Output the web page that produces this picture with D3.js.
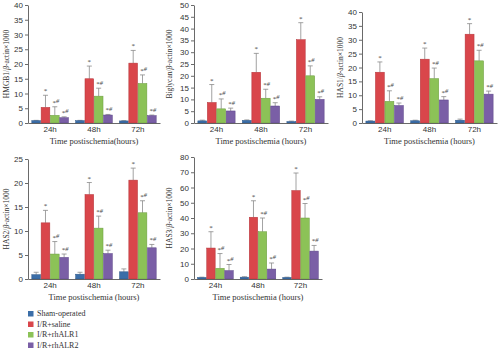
<!DOCTYPE html>
<html>
<head>
<meta charset="utf-8">
<script src="https://cdn.jsdelivr.net/npm/d3@7"></script>
<style>
  body { margin: 0; background: #fff; }
  svg { font-family: 'Liberation Serif', 'DejaVu Serif', serif; }
  .tick text { font-size: 8px; fill: #333; }
  .axis path, .axis line { stroke: #444; stroke-width: 0.8; }
  .axis-title { font-size: 8.5px; fill: #333; }
</style>
</head>
<body>
<svg id="chart" width="500" height="352"></svg>
<script>
// groups and time points
const groups = ['Sham-operated', 'I/R+saline', 'I/R+rhALR1', 'I/R+rhALR2']
const times = ['24h', '48h', '72h']
const marks = ['', '*', '*#', '*#']
const colors = ['#3b6ea8', '#d9464b', '#8cc257', '#7a5fa6']
const strokes = ['#2b5586', '#b3353a', '#6b9c3f', '#5b4487']

// values: one row per group, one column per time point
const hmgb1Mean = [[0.8, 0.8, 0.7], [5.3, 15.0, 20.3], [2.6, 9.1, 13.4], [1.8, 2.7, 2.5]]
const hmgb1Err  = [[0.1, 0.1, 0.1], [4.1, 4.3, 4.3], [2.9, 2.7, 2.9], [0.3, 0.2, 0.2]]

const biglycanMean = [[0.9, 1.1, 0.6], [8.7, 21.5, 35.3], [6.0, 10.5, 20.0], [5.1, 7.2, 10.0]]
const biglycanErr  = [[0.3, 0.2, 0.2], [7.6, 8.0, 7.2], [4.2, 3.8, 4.2], [1.2, 1.4, 1.1]]

const has1Mean = [[0.7, 0.8, 1.0], [18.3, 23.0, 32.0], [7.8, 16.0, 22.4], [6.3, 8.3, 10.4]]
const has1Err  = [[0.1, 0.2, 0.4], [3.7, 4.0, 3.8], [3.8, 3.8, 3.8], [0.9, 1.2, 1.1]]

const has2Mean = [[0.9, 1.0, 1.5], [11.7, 17.6, 20.6], [5.2, 10.6, 13.8], [4.5, 5.3, 6.5]]
const has2Err  = [[0.5, 0.4, 0.6], [2.6, 2.5, 2.5], [2.6, 2.5, 2.5], [0.7, 0.7, 0.7]]

const has3Mean = [[1.0, 1.2, 1.0], [20.3, 40.5, 58.0], [7.0, 31.0, 40.0], [5.5, 6.5, 18.3]]
const has3Err  = [[0.2, 0.3, 0.2], [10.7, 10.8, 11.5], [9.7, 9.0, 9.5], [4.0, 4.0, 3.7]]

const yMax = [40, 50, 40, 25, 80]
const yStep = [5, 5, 5, 5, 10]

const svg = d3.select('#chart')

function drawPanel(cfg, mean, err, max, step) {
    const x0 = d3.scaleBand().domain(times).range([cfg.left, cfg.right])
        .paddingInner(0.15).paddingOuter(0.08)
    const x1 = d3.scaleBand().domain(groups).range([0, x0.bandwidth()])
    const y = d3.scaleLinear().domain([0, max]).range([cfg.bottom, cfg.top])

    const g = svg.append('g')

    // bars
    groups.forEach((grp, gi) => {
        times.forEach((t, ti) => {
            const bx = x0(t) + x1(grp)
            const bw = x1.bandwidth()
            const v = mean[gi][ti]
            const e = err[gi][ti]
            const cx = bx + bw / 2
            // error bar (upper half only)
            g.append('line')
                .attr('x1', cx).attr('x2', cx)
                .attr('y1', y(v)).attr('y2', y(v + e))
                .attr('stroke', '#8a8a8a').attr('stroke-width', 0.8)
            g.append('line')
                .attr('x1', cx - 2.5).attr('x2', cx + 2.5)
                .attr('y1', y(v + e)).attr('y2', y(v + e))
                .attr('stroke', '#8a8a8a').attr('stroke-width', 0.8)
            g.append('rect')
                .attr('x', bx + 0.3)
                .attr('y', y(v))
                .attr('width', bw - 0.6)
                .attr('height', y(0) - y(v))
                .attr('fill', colors[gi])
                .attr('stroke', strokes[gi])
                .attr('stroke-width', 0.5)
            if (marks[gi]) {
                const txt = g.append('text')
                    .attr('x', cx + (marks[gi].length > 1 ? 1 : 0))
                    .attr('y', y(v + e) - 2)
                    .attr('text-anchor', 'middle')
                    .style('font-size', '7px')
                    .style('fill', '#444')
                txt.append('tspan').text('*')
                if (marks[gi].includes('#')) {
                    txt.append('tspan').text('#')
                        .attr('dy', -1.5)
                        .style('font-style', 'italic')
                        .style('font-size', '6.5px')
                }
            }
        })
    })

    // axes
    const ticks = d3.range(0, max + 0.001, step)
    g.append('g')
        .attr('class', 'axis')
        .attr('transform', `translate(${cfg.left},0)`)
        .call(d3.axisLeft(y).tickValues(ticks).tickSize(3).tickPadding(2).tickSizeOuter(0))
    g.append('g')
        .attr('class', 'axis')
        .attr('transform', `translate(0,${cfg.bottom})`)
        .call(d3.axisBottom(x0).tickSize(0).tickPadding(3).tickSizeOuter(0))
        .call(a => a.selectAll('.tick text').style('font-size', '8px'))

    // axis titles
    g.append('text')
        .attr('class', 'axis-title')
        .attr('x', (cfg.left + cfg.right) / 2)
        .attr('y', cfg.bottom + cfg.xTitleDy)
        .attr('text-anchor', 'middle')
        .text(cfg.xTitle)

    const yt = g.append('text')
        .attr('class', 'axis-title')
        .attr('transform', `translate(${cfg.yTitleX},${(cfg.top + cfg.bottom) / 2}) rotate(-90)`)
        .attr('text-anchor', 'middle')
        .style('font-size', '7.5px')
    yt.append('tspan').text(cfg.yName + '/')
    yt.append('tspan').text('β').style('font-style', 'italic')
    yt.append('tspan').text('-actin×1000')
}

const panels = [
    {left: 28, right: 160, top: 5, bottom: 123, yTitleX: 9, yName: 'HMGB1', xTitle: 'Time postischemia(hours)', xTitleDy: 20.5},
    {left: 194, right: 328, top: 5, bottom: 123, yTitleX: 172, yName: 'Biglycan', xTitle: 'Time postischemia (hours)', xTitleDy: 20.5},
    {left: 362, right: 497, top: 12, bottom: 123, yTitleX: 343, yName: 'HAS1', xTitle: 'Time postischemia (hours)', xTitleDy: 20.5},
    {left: 28, right: 160, top: 159, bottom: 279, yTitleX: 9, yName: 'HAS2', xTitle: 'Time postischemia (hours)', xTitleDy: 21},
    {left: 194, right: 322, top: 157, bottom: 279, yTitleX: 172, yName: 'HAS3', xTitle: 'Time postischemia (hours)', xTitleDy: 21}
]

drawPanel(panels[0], hmgb1Mean, hmgb1Err, yMax[0], yStep[0])
drawPanel(panels[1], biglycanMean, biglycanErr, yMax[1], yStep[1])
drawPanel(panels[2], has1Mean, has1Err, yMax[2], yStep[2])
drawPanel(panels[3], has2Mean, has2Err, yMax[3], yStep[3])
drawPanel(panels[4], has3Mean, has3Err, yMax[4], yStep[4])

// legend
const legend = svg.append('g').attr('transform', 'translate(28,311)')
groups.forEach((grp, i) => {
    const row = legend.append('g').attr('transform', `translate(0,${i * 10.5})`)
    row.append('rect')
        .attr('width', 5.5).attr('height', 5.5)
        .attr('y', 0)
        .attr('fill', colors[i])
    row.append('text')
        .attr('x', 9).attr('y', 5.2)
        .style('font-size', '8px')
        .style('fill', '#333')
        .text(grp)
})
</script>
</body>
</html>
